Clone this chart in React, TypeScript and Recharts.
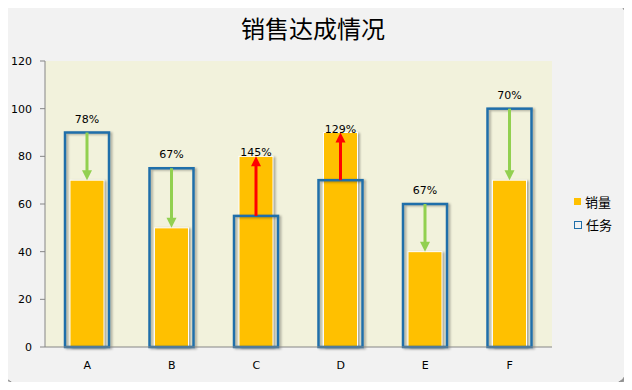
import React from 'react';
import { ComposedChart, Bar, XAxis, YAxis, Legend, LabelList } from 'recharts';

const categories = ['A', 'B', 'C', 'D', 'E', 'F'];
const salesValues = [70, 50, 80, 90, 40, 70];
const taskValues = [90, 75, 55, 70, 60, 100];
const pctLabels = ['78%', '67%', '145%', '129%', '67%', '70%'];
const yTicks = [0, 20, 40, 60, 80, 100, 120];

const data = categories.map((c, i) => ({
  name: c,
  sales: salesValues[i],
  task: taskValues[i],
  pct: pctLabels[i],
  range: [Math.min(salesValues[i], taskValues[i]), Math.max(salesValues[i], taskValues[i])],
}));

const SALES = '#FFC000';
const TASK = '#1F6FAA';
const UP = '#FF0000';
const DOWN = '#92D050';
const FONT = '"DejaVu Sans", Verdana, sans-serif';

const SalesShape = (p: any) => {
  const { x, y, width, height } = p;
  return (
    <g style={{ filter: 'drop-shadow(2px 1px 1px rgba(0,0,0,0.3))' }}>
      <rect x={x} y={y} width={width} height={height} fill={SALES} stroke="#ffffff" strokeWidth={1} />
    </g>
  );
};

const TaskShape = (p: any) => {
  const { x, y, width, height } = p;
  return (
    <g style={{ filter: 'drop-shadow(2px 1px 1px rgba(0,0,0,0.3))' }}>
      <rect x={x} y={y} width={width} height={height} fill="none" stroke={TASK} strokeWidth={2.5} />
    </g>
  );
};

const ArrowShape = (p: any) => {
  const { x, y, width, height, payload } = p;
  const cx = x + width / 2;
  const up = payload.sales > payload.task;
  const color = up ? UP : DOWN;
  const head = 10;
  const hw = 5;
  if (up) {
    const tip = y;
    const base = y + height;
    return (
      <g>
        <line x1={cx} y1={base} x2={cx} y2={tip + head - 1} stroke={color} strokeWidth={3} />
        <polygon points={`${cx},${tip} ${cx - hw},${tip + head} ${cx + hw},${tip + head}`} fill={color} />
      </g>
    );
  }
  const tip = y + height;
  const base = y;
  return (
    <g>
      <line x1={cx} y1={base} x2={cx} y2={tip - head + 1} stroke={color} strokeWidth={3} />
      <polygon points={`${cx},${tip} ${cx - hw},${tip - head} ${cx + hw},${tip - head}`} fill={color} />
    </g>
  );
};

const PctLabel = (p: any) => {
  const { x, y, width, index } = p;
  const d = data[index];
  const up = d.sales > d.task;
  const ty = up ? y : y - 10;
  return (
    <text x={x + width / 2} y={ty} textAnchor="middle" fontSize={11} fontFamily={FONT} fill="#000">
      {d.pct}
    </text>
  );
};

const LegendContent = () => (
  <div style={{ fontFamily: '"Noto Sans CJK SC", sans-serif', fontSize: 13, color: '#000' }}>
    <div style={{ display: 'flex', alignItems: 'center', height: 23 }}>
      <span style={{ display: 'inline-block', width: 7, height: 7, background: SALES, marginRight: 4 }} />
      销量
    </div>
    <div style={{ display: 'flex', alignItems: 'center', height: 23 }}>
      <span style={{ display: 'inline-block', width: 6, height: 6, border: `1.5px solid ${TASK}`, marginRight: 4 }} />
      任务
    </div>
  </div>
);

export default function App() {
  return (
    <div style={{ position: 'relative', width: 632, height: 390, margin: -8 }}>
      <div
        style={{
          position: 'absolute',
          left: 3,
          top: 3,
          width: 622,
          height: 379,
          border: '1px solid #8a8a8a',
          borderRadius: 14,
          background: '#F2F2F2',
          boxShadow: '2px 2px 3px rgba(0,0,0,0.45)',
        }}
      />
      <div
        style={{
          position: 'absolute',
          left: 0,
          top: 13,
          width: 626,
          textAlign: 'center',
          fontFamily: '"Noto Sans CJK SC", sans-serif',
          fontSize: 24,
          lineHeight: '30px',
          color: '#000',
        }}
      >
        销售达成情况
      </div>
      <div style={{ position: 'absolute', left: 0, top: 0 }}>
        <ComposedChart
          width={632}
          height={390}
          data={data}
          margin={{ top: 61, right: 0, bottom: 13, left: 0 }}
        >
          <rect x={45} y={61} width={507} height={286} fill="#F2F2DC" />
          <XAxis
            xAxisId="task"
            dataKey="name"
            tickLine={false}
            axisLine={{ stroke: '#868686' }}
            tick={{ fontSize: 11, fontFamily: FONT, fill: '#000' }}
            tickMargin={8}
            height={30}
          />
          <XAxis xAxisId="sales" dataKey="name" orientation="top" height={0} hide />
          <XAxis xAxisId="arrow" dataKey="name" orientation="top" height={0} hide />
          <YAxis
            domain={[0, 120]}
            ticks={yTicks}
            width={45}
            tickSize={5}
            tickMargin={8}
            axisLine={{ stroke: '#868686' }}
            tickLine={{ stroke: '#868686' }}
            tick={{ fontSize: 11, fontFamily: FONT, fill: '#000' }}
          />
          <Legend
            layout="vertical"
            align="right"
            verticalAlign="middle"
            content={<LegendContent />}
            wrapperStyle={{ width: 80, left: 574, top: 190 }}
          />
          <Bar
            xAxisId="sales"
            dataKey="sales"
            name="销量"
            barSize={34}
            fill={SALES}
            shape={<SalesShape />}
            isAnimationActive={false}
          />
          <Bar
            xAxisId="task"
            dataKey="task"
            name="任务"
            barSize={44}
            fill="none"
            stroke={TASK}
            shape={<TaskShape />}
            isAnimationActive={false}
          />
          <Bar
            xAxisId="arrow"
            dataKey="range"
            barSize={10}
            legendType="none"
            shape={<ArrowShape />}
            isAnimationActive={false}
          >
            <LabelList dataKey="pct" content={<PctLabel />} />
          </Bar>
        </ComposedChart>
      </div>
    </div>
  );
}
